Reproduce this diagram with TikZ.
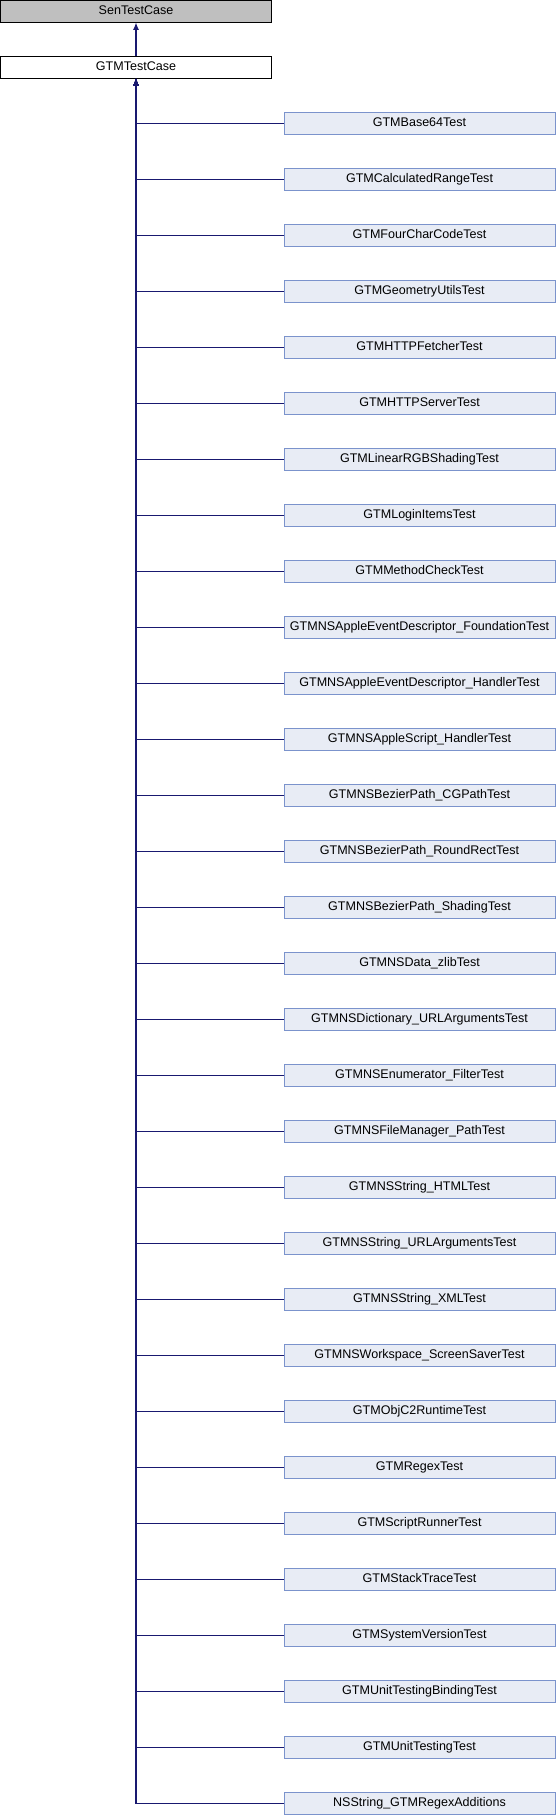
\documentclass[tikz,border=0pt]{standalone}
\usepackage{fontspec}
\setsansfont{Liberation Sans}
\usetikzlibrary{arrows.meta,positioning}
\definecolor{edgeblue}{HTML}{191970}
\definecolor{classfill}{HTML}{E8ECF5}
\definecolor{classdraw}{HTML}{7B93CC}
\definecolor{basefill}{HTML}{BFBFBF}
\tikzset{>={Latex[length=5.5pt,width=4.5pt]}}
\tikzset{
  classbox/.style={draw=classdraw,fill=classfill,line width=0.75pt,outer sep=0pt,minimum width=203.25pt,minimum height=16.5pt,inner sep=0pt,text height=6.7pt,text depth=2.2pt},
  basebox/.style={classbox,draw=black},
  inherit/.style={draw=edgeblue,line width=0.9pt,->}
}

\begin{document}
\begin{tikzpicture}[node distance=25.5pt, font=\fontsize{9.4pt}{11pt}\sffamily]
		\useasboundingbox (0,0) rectangle (417pt,-1362pt);
		\node[basebox,fill=basefill] (sentestcase) at (102pt,-8.625pt) {SenTestCase};
		\node[basebox,fill=white,below=of sentestcase] (gtmtestcase) {GTMTestCase};
		
		\node[classbox] (base64) at (314.625pt,-92.625pt) {GTMBase64Test};
		\node[classbox,below=of base64] (calcrange) {GTMCalculatedRangeTest};
		\node[classbox,below=of calcrange] (fourcharcode) {GTMFourCharCodeTest};
		\node[classbox,below=of fourcharcode] (geometryutils) {GTMGeometryUtilsTest};
		\node[classbox,below=of geometryutils] (httpfetcher) {GTMHTTPFetcherTest};
		\node[classbox,below=of httpfetcher] (httpserver) {GTMHTTPServerTest};
		\node[classbox,below=of httpserver] (linearrgb) {GTMLinearRGBShadingTest};
		\node[classbox,below=of linearrgb] (loginitems) {GTMLoginItemsTest};
		\node[classbox,below=of loginitems] (methodcheck) {GTMMethodCheckTest};
		\node[classbox,below=of methodcheck] (aedfoundation) {GTMNSAppleEventDescriptor\_FoundationTest};
		\node[classbox,below=of aedfoundation] (aedhandler) {GTMNSAppleEventDescriptor\_HandlerTest};
		\node[classbox,below=of aedhandler] (ashandler) {GTMNSAppleScript\_HandlerTest};
		\node[classbox,below=of ashandler] (bpcgpath) {GTMNSBezierPath\_CGPathTest};
		\node[classbox,below=of bpcgpath] (bproundrect) {GTMNSBezierPath\_RoundRectTest};
		\node[classbox,below=of bproundrect] (bpshading) {GTMNSBezierPath\_ShadingTest};
		\node[classbox,below=of bpshading] (datazlib) {GTMNSData\_zlibTest};
		\node[classbox,below=of datazlib] (dicturlargs) {GTMNSDictionary\_URLArgumentsTest};
		\node[classbox,below=of dicturlargs] (enumfilter) {GTMNSEnumerator\_FilterTest};
		\node[classbox,below=of enumfilter] (fmpath) {GTMNSFileManager\_PathTest};
		\node[classbox,below=of fmpath] (strhtml) {GTMNSString\_HTMLTest};
		\node[classbox,below=of strhtml] (strurlargs) {GTMNSString\_URLArgumentsTest};
		\node[classbox,below=of strurlargs] (strxml) {GTMNSString\_XMLTest};
		\node[classbox,below=of strxml] (wsscreensaver) {GTMNSWorkspace\_ScreenSaverTest};
		\node[classbox,below=of wsscreensaver] (objcruntime) {GTMObjC2RuntimeTest};
		\node[classbox,below=of objcruntime] (regex) {GTMRegexTest};
		\node[classbox,below=of regex] (scriptrunner) {GTMScriptRunnerTest};
		\node[classbox,below=of scriptrunner] (stacktrace) {GTMStackTraceTest};
		\node[classbox,below=of stacktrace] (sysversion) {GTMSystemVersionTest};
		\node[classbox,below=of sysversion] (utbinding) {GTMUnitTestingBindingTest};
		\node[classbox,below=of utbinding] (unittesting) {GTMUnitTestingTest};
		\node[classbox,below=of unittesting] (regexadd) {NSString\_GTMRegexAdditions};
		
		\draw[inherit] (gtmtestcase) -- (sentestcase);
		
		\draw[inherit] (base64.west) -| (gtmtestcase.south);
		\draw[inherit] (calcrange.west) -| (gtmtestcase.south);
		\draw[inherit] (fourcharcode.west) -| (gtmtestcase.south);
		\draw[inherit] (geometryutils.west) -| (gtmtestcase.south);
		\draw[inherit] (httpfetcher.west) -| (gtmtestcase.south);
		\draw[inherit] (httpserver.west) -| (gtmtestcase.south);
		\draw[inherit] (linearrgb.west) -| (gtmtestcase.south);
		\draw[inherit] (loginitems.west) -| (gtmtestcase.south);
		\draw[inherit] (methodcheck.west) -| (gtmtestcase.south);
		\draw[inherit] (aedfoundation.west) -| (gtmtestcase.south);
		\draw[inherit] (aedhandler.west) -| (gtmtestcase.south);
		\draw[inherit] (ashandler.west) -| (gtmtestcase.south);
		\draw[inherit] (bpcgpath.west) -| (gtmtestcase.south);
		\draw[inherit] (bproundrect.west) -| (gtmtestcase.south);
		\draw[inherit] (bpshading.west) -| (gtmtestcase.south);
		\draw[inherit] (datazlib.west) -| (gtmtestcase.south);
		\draw[inherit] (dicturlargs.west) -| (gtmtestcase.south);
		\draw[inherit] (enumfilter.west) -| (gtmtestcase.south);
		\draw[inherit] (fmpath.west) -| (gtmtestcase.south);
		\draw[inherit] (strhtml.west) -| (gtmtestcase.south);
		\draw[inherit] (strurlargs.west) -| (gtmtestcase.south);
		\draw[inherit] (strxml.west) -| (gtmtestcase.south);
		\draw[inherit] (wsscreensaver.west) -| (gtmtestcase.south);
		\draw[inherit] (objcruntime.west) -| (gtmtestcase.south);
		\draw[inherit] (regex.west) -| (gtmtestcase.south);
		\draw[inherit] (scriptrunner.west) -| (gtmtestcase.south);
		\draw[inherit] (stacktrace.west) -| (gtmtestcase.south);
		\draw[inherit] (sysversion.west) -| (gtmtestcase.south);
		\draw[inherit] (utbinding.west) -| (gtmtestcase.south);
		\draw[inherit] (unittesting.west) -| (gtmtestcase.south);
		\draw[inherit] (regexadd.west) -| (gtmtestcase.south);
	\end{tikzpicture}
\end{document}
